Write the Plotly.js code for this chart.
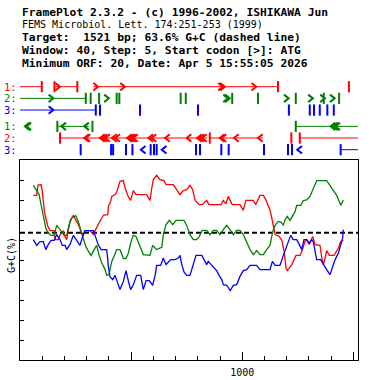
<!DOCTYPE html>
<html><head><meta charset="utf-8">
<script src="https://cdn.plot.ly/plotly-3.0.1.min.js"></script>
<style>html,body{margin:0;padding:0;background:#fff;}#chart{width:378px;height:380px;}</style>
</head><body><div id="chart"></div>
<script>
// ---- sequence info ----
const seqLength = 1521;
const gcPercent = 63.6;
const headerLines = [
  "FramePlot 2.3.2 - (c) 1996-2002, ISHIKAWA Jun",
  "FEMS Microbiol. Lett. 174:251-253 (1999)",
  "Target:  1521 bp; 63.6% G+C (dashed line)",
  "Window: 40, Step: 5, Start codon [>]: ATG",
  "Minimum ORF: 20, Date: Apr 5 15:55:05 2026"
];
const xTickVals = [500, 1000, 1500];
const xTickText = ["", "1000", ""];
const yTitle = "G+C(%)";

// ---- G+C curves (position bp, G+C %) ----
const frame1X = [60,75,81,95,100,109,116,125,135,154,158,172,180,195,199,210,217,225,240,255,266,278,293,315,330,338,350,365,377,395,398,408,413,428,435,450,465,473,487,498,510,522,570,585,593,600,615,630,648,657,690,705,720,735,750,765,777,788,802,806,820,840,850,905,915,926,937,955,990,1005,1016,1050,1061,1080,1095,1106,1115,1125,1133,1140,1148,1166,1178,1185,1189,1197,1203,1223,1242,1260,1268,1283,1290,1302,1317,1328,1350,1358,1365,1373,1380,1392,1413,1433,1443,1455];
const frame1GC = [82.3,82.3,87.5,87.6,85,75,71,67,64.7,64.7,60.2,60.2,62.5,64.7,62.5,60.2,64.7,69.5,72.2,69.5,67,62.7,64.7,64.7,62.7,64.7,67.5,70.5,72.5,72.7,76.8,79.3,81.8,82.7,84,89.3,89.7,86,81.8,79.8,84.7,82.7,82.7,79.8,86,90.2,92.3,90.2,89.7,87.7,87.7,85.2,82.7,84.7,85.2,87.3,85.2,79.8,78,77.7,77.7,79.8,77.7,77.7,79.8,78,81.8,77.7,77.7,74.8,79.8,79.8,77.7,82.3,82.3,80.2,77.7,75,71,66,62.7,61.8,60,56,54.3,46,44.7,47.7,52.3,52.3,54.3,59.3,60.2,57.7,61.8,57.7,57.3,51,47.7,51,54.7,52.3,52.3,56,59.3,60];
const frame2X = [60,75,86,95,105,116,127,140,154,165,180,190,199,210,220,233,251,262,275,285,296,308,320,334,345,356,368,383,390,400,405,413,423,435,450,465,477,488,498,510,522,537,555,585,597,608,615,638,645,657,672,687,702,738,750,765,780,795,807,820,840,855,870,885,900,915,930,945,960,975,990,1005,1020,1035,1050,1065,1080,1095,1110,1125,1133,1140,1148,1162,1175,1185,1193,1203,1215,1227,1238,1245,1263,1275,1290,1305,1317,1328,1335,1380,1395,1410,1425,1437,1443,1455];
const frame2GC = [87.3,84.3,82.7,77.5,71,66,63.5,62.3,62.3,67.3,65.2,63.5,62.3,62.3,67.3,71,72.2,69.3,64.3,61,56.8,54.3,52.3,55.2,57.3,52.3,48.5,45.2,42.3,42.7,46,49.3,51.8,55.2,55.2,50.7,50.7,53.5,58.5,62.3,61.8,57.7,52.7,52.3,57.3,56,55.2,56.3,62.7,67.7,69.8,67.7,69.8,69.8,67.3,62.7,60.2,60.2,61.8,64.8,64.8,62.7,64.8,64.8,62.7,65.2,67.3,65.2,62.7,64.8,64.8,62.7,58.5,55.2,52.7,54.7,52.7,52.7,55.2,57.3,61.8,65.2,67.3,69.3,69,67.3,70.2,71.8,69.8,71.8,74.3,77.3,77.3,79.7,80,81.8,84.7,87.7,89.7,89.7,87.3,85.2,82.3,79.3,77.3,80];
const frame3X = [60,75,90,105,116,127,140,154,165,180,190,203,210,225,240,255,270,280,293,330,338,352,365,390,395,397,405,417,428,435,450,465,477,488,498,510,525,543,555,567,582,597,608,615,633,645,657,668,678,698,712,720,728,738,750,765,777,792,818,829,840,847,860,870,885,896,908,915,930,937,946,960,975,990,1005,1020,1035,1065,1080,1125,1136,1148,1170,1185,1203,1218,1230,1245,1257,1268,1278,1290,1302,1313,1320,1328,1335,1353,1365,1380,1395,1407,1418,1433,1443,1452,1455];
const frame3GC = [60.2,57.3,59.2,59.2,55.2,57.7,59.8,59.8,62.7,60.2,57.3,57.3,55.2,57.8,62.3,59.7,57.3,61,64.7,64.7,61.8,57.7,55.2,55.2,50.2,47.5,41.7,40.2,42.3,40.2,35.2,39.3,44.7,39.3,35.2,37.7,42.3,42.3,35.2,39.7,39.7,37.3,42.3,47.3,47.3,51,47.7,49,50.2,50.2,51,52.3,47.7,44,42.3,42.3,46.8,52.3,52.3,50.2,47.7,49.3,47.7,46,44.7,42.3,40.2,37.7,37.3,36.3,34.7,37.3,37.7,41.8,44.7,45.2,47.3,47.3,45.2,45.2,49.3,47.3,47.3,52.3,57.7,62.3,60.2,60.2,57.7,55.2,60.2,60.2,58.5,60.2,59,53.5,50.2,50.2,47.7,45.2,42.7,46.8,50.2,53.5,57.5,61,65.2];

// ---- ORF map (bp): spans, start codons, stop codons per track ----
const trackLabels = ["1:", "2:", "3:", "1:", "2:", "3:"];
const fwd1Orfs = [[0,98],[160,258],[331,1161]];
const fwd1Starts = [180,351,472,913,922,1063];
const fwd1Stops = [98,155,258,1161,1480];
const fwd2Orfs = [[0,296]];
const fwd2Starts = [150,400,936,944,1209,1318,1372,1416];
const fwd2Stops = [296,318,356,435,447,723,746,955,1071,1241,1367,1436];
const fwd3Orfs = [[0,341]];
const fwd3Starts = [150];
const fwd3Stops = [341,360,540,801,1210,1304,1323,1349,1383,1412];
const rev1Orfs = [[168,310],[1241,1521]];
const rev1Starts = [22,29,186,289,1398,1409,1419];
const rev1Stops = [168,326,1241];
const rev2Orfs = [[180,841],[854,1093],[1259,1521]];
const rev2Starts = [289,295,360,371,383,414,428,482,491,500,509,578,592,653,750,797,808,819,899,907,963,1071];
const rev2Stops = [180,854,1221,1259];
const rev3Orfs = [[1443,1521]];
const rev3Starts = [544,638,1248];
const rev3Stops = [273,410,419,477,506,588,603,615,792,810,906,939,1098,1206,1224,1443];

const RED = "#ff0000", GREEN = "#008000", BLUE = "#0000ff";
const tracks = [
  {orfs: fwd1Orfs, starts: fwd1Starts, stops: fwd1Stops, dir: 1, color: RED, row: 0},
  {orfs: fwd2Orfs, starts: fwd2Starts, stops: fwd2Stops, dir: 1, color: GREEN, row: 1},
  {orfs: fwd3Orfs, starts: fwd3Starts, stops: fwd3Stops, dir: 1, color: BLUE, row: 2},
  {orfs: rev1Orfs, starts: rev1Starts, stops: rev1Stops, dir: -1, color: GREEN, row: 3.4},
  {orfs: rev2Orfs, starts: rev2Starts, stops: rev2Stops, dir: -1, color: RED, row: 4.4},
  {orfs: rev3Orfs, starts: rev3Starts, stops: rev3Stops, dir: -1, color: BLUE, row: 5.4}
];
const CHEV_DX = 21, CHEV_DY = 0.32;

const traces = [];
traces.push({x: [0, seqLength], y: [gcPercent, gcPercent], mode: "lines", xaxis: "x", yaxis: "y",
  line: {color: "#000", width: 2, dash: "5px,3px"}, hoverinfo: "skip", name: "G+C"});
[[frame1X, frame1GC, RED, "Frame 1"], [frame2X, frame2GC, GREEN, "Frame 2"], [frame3X, frame3GC, BLUE, "Frame 3"]].forEach(function(s) {
  traces.push({x: s[0], y: s[1], mode: "lines", xaxis: "x", yaxis: "y", name: s[3],
    line: {color: s[2], width: 1.3, shape: "linear"}});
});
tracks.forEach(function(t) {
  const lx = [], ly = [];
  t.orfs.forEach(function(o) { lx.push(o[0], o[1], null); ly.push(t.row, t.row, null); });
  traces.push({x: lx, y: ly, mode: "lines", xaxis: "x", yaxis: "y2", line: {color: t.color, width: 1}, hoverinfo: "skip"});
  const cx = [], cy = [];
  t.starts.forEach(function(s) {
    const tail = s - t.dir * CHEV_DX;
    cx.push(tail, s, tail, null); cy.push(t.row - CHEV_DY, t.row, t.row + CHEV_DY, null);
  });
  traces.push({x: cx, y: cy, mode: "lines", xaxis: "x", yaxis: "y2", line: {color: t.color, width: 2}, hoverinfo: "skip"});
  traces.push({x: t.stops, y: t.stops.map(function() { return t.row; }), mode: "markers", xaxis: "x", yaxis: "y2",
    marker: {symbol: "line-ns", size: 8, color: t.color, line: {color: t.color, width: 2}}, hoverinfo: "skip"});
});

const W = 378, H = 380, ML = 20, MR = 20, MT = 80, MB = 20;
const PH = H - MT - MB, PW = W - ML - MR;
function py(p) { return (H - MB - p) / PH; }
function px(p) { return (p - ML) / PW; }

const headerY = [12.3, 24.6, 37.1, 50.3, 63.0];
const headerSize = [11.3, 10, 11.3, 11.3, 11.3];
const annotations = headerLines.map(function(t, i) {
  return {text: t, xref: "paper", yref: "paper", x: px(20.5), y: py(headerY[i]), xanchor: "left", yanchor: "middle",
    showarrow: false, borderpad: 0,
    font: {family: "DejaVu Sans Mono", size: headerSize[i], color: "#000", weight: i === 1 ? "normal" : "bold"}};
});
tracks.forEach(function(t, i) {
  annotations.push({text: trackLabels[i], xref: "paper", yref: "y2", x: px(3), y: t.row, xanchor: "left", yanchor: "middle",
    showarrow: false, borderpad: 0, font: {family: "DejaVu Sans Mono", size: 10.5, color: t.color}});
});
annotations.push({text: yTitle, xref: "paper", yref: "paper", x: px(11), y: py(255), textangle: -90,
  xanchor: "center", yanchor: "middle", showarrow: false, font: {family: "DejaVu Sans Mono", size: 10, color: "#000"}});

const layout = {
  width: W, height: H, margin: {l: ML, r: MR, t: MT, b: MB, pad: 0},
  paper_bgcolor: "#fff", plot_bgcolor: "#fff", showlegend: false,
  xaxis: {range: [0, seqLength], anchor: "y", showgrid: false, zeroline: false, showline: true, mirror: true,
    linecolor: "#000", linewidth: 1, tickmode: "array", tickvals: xTickVals, ticktext: xTickText,
    ticks: "inside", ticklen: 8, tickwidth: 1, tickcolor: "#000", ticklabelstandoff: 3,
    tickfont: {family: "DejaVu Sans Mono", size: 10, color: "#000"},
    minor: {tickmode: "linear", tick0: 0, dtick: 100, ticks: "inside", ticklen: 4, tickwidth: 1, tickcolor: "#000", showgrid: false}},
  yaxis: {domain: [0, 200 / PH], range: [0, 100], showgrid: false, zeroline: false, showline: true, mirror: true,
    linecolor: "#000", linewidth: 1, tickmode: "linear", tick0: 0, dtick: 10, ticks: "inside", ticklen: 4,
    tickcolor: "#000", showticklabels: false},
  yaxis2: {domain: [py(156), 1], range: [5.94, -0.574], visible: false, anchor: "x"},
  annotations: annotations
};
Plotly.newPlot("chart", traces, layout, {staticPlot: true, displayModeBar: false});
</script></body></html>
